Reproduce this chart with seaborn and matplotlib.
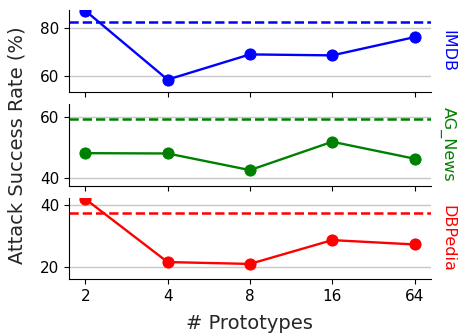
import matplotlib
matplotlib.use("Agg")
import matplotlib.pyplot as plt
import seaborn as sns
import pandas as pd
from matplotlib.ticker import MultipleLocator

prototypes = ["2", "4", "8", "16", "64"]
datasets = ["IMDB", "AG_News", "DBPedia"]
imdb = [87.2, 58.5, 69.0, 68.6, 76.2]
ag_news = [48.2, 48.1, 42.7, 51.9, 46.4]
dbpedia = [41.9, 21.5, 20.9, 28.6, 27.2]
baselines = [82.5, 59.2, 37.3]
colors = ["blue", "green", "red"]

sns.set_style("ticks")
plt.rcParams["font.family"] = ["DejaVu Sans"]

fig, axes = plt.subplots(3, 1, figsize=(4.59, 3.33), dpi=100, sharex=True)
plt.subplots_adjust(left=0.150, right=0.939, top=0.970, bottom=0.161, hspace=0.15)

series = [imdb, ag_news, dbpedia]
for ax, name, vals, base, col in zip(axes, datasets, series, baselines, colors):
    df = pd.DataFrame({"x": range(len(prototypes)), "rate": vals})
    sns.lineplot(data=df, x="x", y="rate", ax=ax, color=col, marker="o",
                 markersize=8, markeredgecolor=col, linewidth=1.7)
    ax.axhline(base, color=col, linestyle="--", linewidth=1.8)
    ax.set_ylim(min(vals) - 5, base + 5)
    ax.yaxis.set_major_locator(MultipleLocator(20))
    ax.grid(axis="y", color="0.78", linewidth=1)
    ax.set_axisbelow(True)
    ax.tick_params(labelsize=11, colors="black")
    for s in ["left", "bottom"]:
        ax.spines[s].set_color("black")
    sns.despine(ax=ax)
    ax.set_ylabel("")
    ax.set_xlabel("")
    ax.text(1.025, 0.5, name, transform=ax.transAxes, rotation=270,
            va="center", ha="left", color=col, fontsize=11.5)

axes[-1].set_xticks(range(len(prototypes)))
axes[-1].set_xticklabels(prototypes)
axes[-1].set_xlim(-0.2, len(prototypes) - 0.8)
axes[-1].set_xlabel("# Prototypes", fontsize=14, labelpad=7)
axes[1].set_ylabel("Attack Success Rate (%)", fontsize=14)
axes[1].yaxis.set_label_coords(-0.118, 0.5)

fig.savefig("out.png", dpi=100)
